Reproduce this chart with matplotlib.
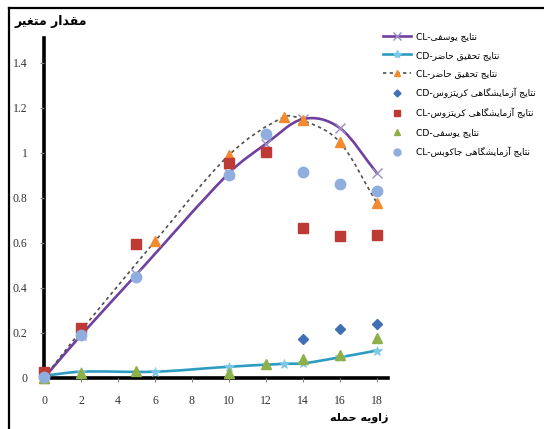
import matplotlib
matplotlib.use("Agg")
import matplotlib.pyplot as plt
from matplotlib.path import Path
from matplotlib.patches import PathPatch
from matplotlib.lines import Line2D

# angle of attack / values
yousefi_cl_x = [0, 2, 5, 10, 12, 14, 16, 18]
yousefi_cl_y = [0.0, 0.19, 0.46, 0.91, 1.04, 1.15, 1.11, 0.91]

present_cd_x = [0, 2, 6, 10, 13, 14, 16, 18]
present_cd_y = [0.01, 0.028, 0.028, 0.05, 0.063, 0.065, 0.092, 0.122]

present_cl_x = [0, 2, 6, 10, 13, 14, 16, 18]
present_cl_y = [0.0, 0.21, 0.607, 0.99, 1.16, 1.145, 1.047, 0.777]

critzos_cd_x = [14, 16, 18]
critzos_cd_y = [0.172, 0.216, 0.24]

critzos_cl_x = [0, 2, 5, 10, 12, 14, 16, 18]
critzos_cl_y = [0.028, 0.22, 0.595, 0.954, 1.005, 0.666, 0.629, 0.637]

yousefi_cd_x = [0, 2, 5, 10, 12, 14, 16, 18]
yousefi_cd_y = [0.0, 0.024, 0.03, 0.02, 0.062, 0.085, 0.1, 0.176]

jacobs_cl_x = [0, 2, 5, 10, 12, 14, 16, 18]
jacobs_cl_y = [0.005, 0.19, 0.447, 0.9, 1.082, 0.913, 0.862, 0.83]

labels = [
    ("نتایج یوسفی", "CL"),
    ("نتایج تحقیق حاضر", "CD"),
    ("نتایج تحقیق حاضر", "CL"),
    ("نتایج آزمایشگاهی کریتزوس", "CD"),
    ("نتایج آزمایشگاهی کریتزوس", "CL"),
    ("نتایج یوسفی", "CD"),
    ("نتایج آزمایشگاهی جاکوبس", "CL"),
]
ylabel_text = "مقدار متغیر"
xlabel_text = "زاویه حمله"

# matplotlib has no arabic shaping, so pick presentation forms by hand
FORMS = {
    "ا": (0xFE8D, 0xFE8E), "آ": (0xFE81, 0xFE82),
    "د": (0xFEA9, 0xFEAA), "ر": (0xFEAD, 0xFEAE),
    "ز": (0xFEAF, 0xFEB0), "و": (0xFEED, 0xFEEE),
    "ب": (0xFE8F, 0xFE90, 0xFE91, 0xFE92),
    "ت": (0xFE95, 0xFE96, 0xFE97, 0xFE98),
    "ج": (0xFE9D, 0xFE9E, 0xFE9F, 0xFEA0),
    "ح": (0xFEA1, 0xFEA2, 0xFEA3, 0xFEA4),
    "س": (0xFEB1, 0xFEB2, 0xFEB3, 0xFEB4),
    "ش": (0xFEB5, 0xFEB6, 0xFEB7, 0xFEB8),
    "ض": (0xFEBD, 0xFEBE, 0xFEBF, 0xFEC0),
    "غ": (0xFECD, 0xFECE, 0xFECF, 0xFED0),
    "ف": (0xFED1, 0xFED2, 0xFED3, 0xFED4),
    "ق": (0xFED5, 0xFED6, 0xFED7, 0xFED8),
    "ک": (0xFB8E, 0xFB8F, 0xFB90, 0xFB91),
    "گ": (0xFB92, 0xFB93, 0xFB94, 0xFB95),
    "ل": (0xFEDD, 0xFEDE, 0xFEDF, 0xFEE0),
    "م": (0xFEE1, 0xFEE2, 0xFEE3, 0xFEE4),
    "ن": (0xFEE5, 0xFEE6, 0xFEE7, 0xFEE8),
    "ه": (0xFEE9, 0xFEEA, 0xFEEB, 0xFEEC),
    "ی": (0xFBFC, 0xFBFD, 0xFBFE, 0xFBFF),
}


def shape(s):
    out = []
    for i, ch in enumerate(s):
        if ch not in FORMS:
            out.append(ch)
            continue
        prev = s[i - 1] if i > 0 else ""
        nxt = s[i + 1] if i + 1 < len(s) else ""
        f = FORMS[ch]
        jp = prev in FORMS and len(FORMS[prev]) == 4
        jn = len(f) == 4 and nxt in FORMS
        if jp and jn:
            out.append(chr(f[3]))
        elif jp:
            out.append(chr(f[1]))
        elif jn:
            out.append(chr(f[2]))
        else:
            out.append(chr(f[0]))
    return "".join(out)[::-1]


def smooth(ax, xs, ys, **kw):
    # smoothed line: cubic hermite segments drawn as bezier curves
    n = len(xs)
    m = []
    for i in range(n):
        a = max(i - 1, 0)
        b = min(i + 1, n - 1)
        m.append((ys[b] - ys[a]) / (xs[b] - xs[a]))
    verts = [(xs[0], ys[0])]
    codes = [Path.MOVETO]
    for i in range(n - 1):
        h = (xs[i + 1] - xs[i]) / 3
        verts += [(xs[i] + h, ys[i] + m[i] * h),
                  (xs[i + 1] - h, ys[i + 1] - m[i + 1] * h),
                  (xs[i + 1], ys[i + 1])]
        codes += [Path.CURVE4] * 3
    ax.add_patch(PathPatch(Path(verts, codes), fill=False, **kw))


fig = plt.figure(figsize=(5.44, 4.29), dpi=100)
ax = fig.add_axes([44 / 544, 51 / 429, 344 / 544, 340 / 429])

purple = "#7040A0"
cyan = "#2E9CC2"
orange = "#F28A2E"
gray = "#505050"
blue = "#3F6FB5"
red = "#BE3A34"
green = "#8DB048"
lblue = "#90AEDD"

smooth(ax, yousefi_cl_x, yousefi_cl_y, edgecolor=purple, lw=1.9, zorder=2)
ax.plot(yousefi_cl_x, yousefi_cl_y, ls="none", marker="x", ms=7, mew=1.0,
        color="#9C8CC4", zorder=2, clip_on=False)
smooth(ax, present_cd_x, present_cd_y, edgecolor=cyan, lw=1.9, zorder=3)
ax.plot(present_cd_x, present_cd_y, ls="none", marker="*", ms=7, mew=0.5,
        color="#7CC8E4", zorder=3, clip_on=False)
smooth(ax, present_cl_x, present_cl_y, edgecolor=gray, lw=1.2,
       linestyle=(0, (2, 2)), zorder=4)
ax.plot(present_cl_x, present_cl_y, ls="none", marker="^", ms=7,
        color=orange, zorder=4, clip_on=False)
ax.plot(critzos_cd_x, critzos_cd_y, ls="none", marker="D", ms=5,
        color=blue, zorder=5, clip_on=False)
ax.plot(critzos_cl_x, critzos_cl_y, ls="none", marker="s", ms=7.5,
        color=red, zorder=6, clip_on=False)
ax.plot(yousefi_cd_x, yousefi_cd_y, ls="none", marker="^", ms=6.5,
        color=green, zorder=7, clip_on=False)
ax.plot(jacobs_cl_x, jacobs_cl_y, ls="none", marker="o", ms=7.5,
        color=lblue, zorder=8, clip_on=False)

ax.set_xlim(0, 18.6)
ax.set_ylim(0, 1.51)
ax.set_xticks(range(0, 19, 2))
ax.set_yticks([0, 0.2, 0.4, 0.6, 0.8, 1.0, 1.2, 1.4])
ax.set_yticklabels(["0", "0.2", "0.4", "0.6", "0.8", "1", "1.2", "1.4"])
for side in ["top", "right"]:
    ax.spines[side].set_visible(False)
for side in ["left", "bottom"]:
    ax.spines[side].set_linewidth(2.6)
    ax.spines[side].set_zorder(1)
ax.tick_params(length=3, width=0.8, color="#808080", pad=9,
               labelsize=8.5, labelcolor="#333333")
for t in ax.get_xticklabels() + ax.get_yticklabels():
    t.set_family("Liberation Serif")

handles = [
    Line2D([], [], color=purple, lw=1.9, marker="x", ms=6, mec="#9C8CC4"),
    Line2D([], [], color=cyan, lw=1.9, marker="*", ms=6, mec="#7CC8E4", mfc="#7CC8E4"),
    Line2D([], [], color=gray, lw=1.2, ls=(0, (2, 2)), marker="^", ms=5, mfc=orange, mec=orange),
    Line2D([], [], ls="none", marker="D", ms=3.5, color=blue),
    Line2D([], [], ls="none", marker="s", ms=5, color=red),
    Line2D([], [], ls="none", marker="^", ms=5, color=green),
    Line2D([], [], ls="none", marker="o", ms=5, color=lblue),
]
texts = [tag + "-" + shape(fa) for fa, tag in labels]
fig.legend(handles, texts, loc="upper left", bbox_to_anchor=(383 / 544, 1 - 32 / 429),
           frameon=False, handlelength=3.0, handletextpad=0.6,
           labelspacing=1.05, borderaxespad=0, borderpad=0,
           prop={"family": "DejaVu Sans", "size": 6.6})

fig.text(15 / 544, 1 - 22 / 429, shape(ylabel_text), fontsize=9,
         fontweight="bold", family="DejaVu Sans", ha="left", va="center")
fig.text(388 / 544, 1 - 418 / 429, shape(xlabel_text), fontsize=8,
         fontweight="bold", family="DejaVu Sans", ha="right", va="center")

# outer frame, only top and left edges are visible in the picture
fig.add_artist(Line2D([9 / 544, 9 / 544], [0, 1 - 8 / 429], color="black", lw=1.6,
                      transform=fig.transFigure))
fig.add_artist(Line2D([9 / 544, 1], [1 - 8 / 429, 1 - 8 / 429], color="black", lw=1.6,
                      transform=fig.transFigure))

fig.savefig("out.png", dpi=100)
